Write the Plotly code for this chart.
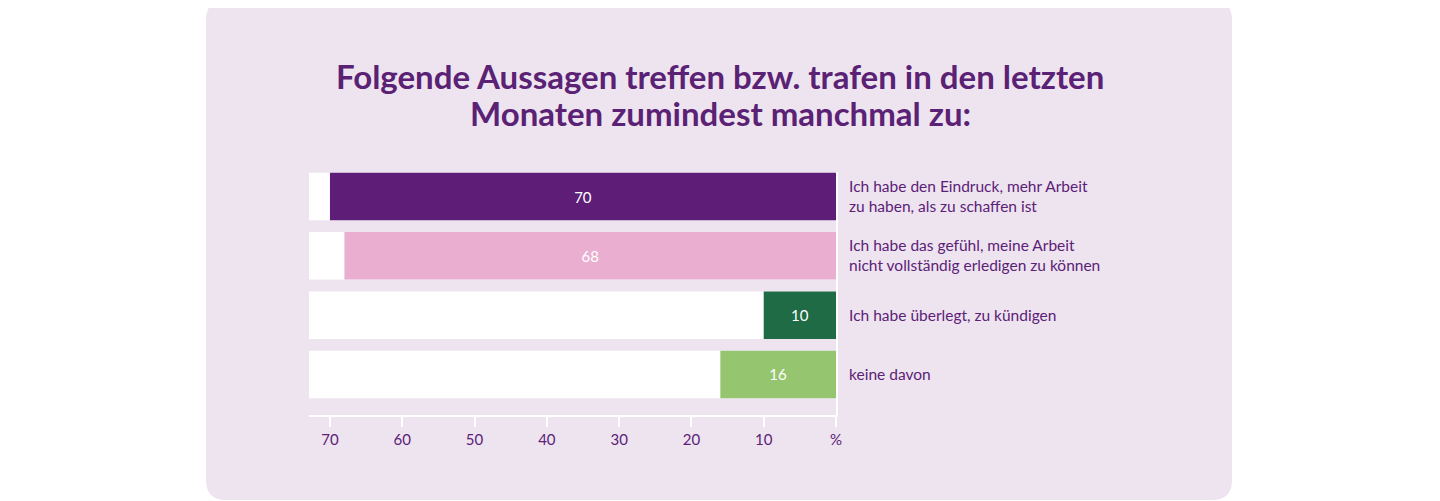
import plotly.graph_objects as go

# Datos del gráfico
titel_zeilen = [
    "Folgende Aussagen treffen bzw. trafen in den letzten",
    "Monaten zumindest manchmal zu:",
]
aussagen = [
    "Ich habe den Eindruck, mehr Arbeit<br>zu haben, als zu schaffen ist",
    "Ich habe das gefühl, meine Arbeit<br>nicht vollständig erledigen zu können",
    "Ich habe überlegt, zu kündigen",
    "keine davon",
]
werte = [70, 68, 10, 16]
farben = ["#5e1e78", "#eaaed0", "#1f6b45", "#95c56e"]
tick_werte = [70, 60, 50, 40, 30, 20, 10, 0]
tick_texte = ["70", "60", "50", "40", "30", "20", "10", "%"]

lila = "#5c2177"
hintergrund = "#ede4f0"
x_max = 72.9

pos = list(range(len(aussagen)))

fig = go.Figure()

# Weiße Hintergrundbalken (Spuren)
fig.add_trace(go.Bar(
    x=[x_max] * len(pos), y=pos, orientation="h",
    marker_color="white", marker_line_width=0,
    hoverinfo="skip", showlegend=False,
))

# Eigentliche Werte
fig.add_trace(go.Bar(
    x=werte, y=pos, orientation="h",
    marker_color=farben, marker_line_width=0,
    text=[str(w) for w in werte], textposition="inside",
    insidetextanchor="middle",
    textfont=dict(color="white", size=15, family="Lato"),
    showlegend=False,
))

# Seite hat 8px Rand, daher alles um 8px verschieben
off = 8
pl, pr, pt, pb = 309 - off, 836 - off, 172 - off, 415 - off
def px(x):
    return (x - off - pl) / (pr - pl)
def py(y):
    return (pb - (y - off)) / (pb - pt)

# Panel mit runden Ecken
x0, x1, y0, y1, r = 206, 1232, 0, 500, 20
path = (
    f"M {px(x0 + r)} {py(y0)} L {px(x1 - r)} {py(y0)} "
    f"Q {px(x1)} {py(y0)} {px(x1)} {py(y0 + r)} "
    f"L {px(x1)} {py(y1 - r)} Q {px(x1)} {py(y1)} {px(x1 - r)} {py(y1)} "
    f"L {px(x0 + r)} {py(y1)} Q {px(x0)} {py(y1)} {px(x0)} {py(y1 - r)} "
    f"L {px(x0)} {py(y0 + r)} Q {px(x0)} {py(y0)} {px(x0 + r)} {py(y0)} Z"
)
fig.add_shape(type="path", path=path, xref="paper", yref="paper",
              fillcolor=hintergrund, line_width=0, layer="below")

# Titel als zwei Zeilen (engerer Zeilenabstand als bei <br>)
for zeile, ypix in zip(titel_zeilen, [76, 113]):
    fig.add_annotation(
        text=zeile, xref="paper", yref="paper",
        x=px(720), y=py(ypix), xanchor="center", yanchor="middle",
        showarrow=False,
        font=dict(family="Lato", size=33, color="#5a2174", weight="bold"),
    )

fig.update_layout(
    width=1440, height=501,
    margin=dict(l=pl, r=1440 - pr, t=pt, b=501 - pb),
    paper_bgcolor="white", plot_bgcolor="rgba(0,0,0,0)",
    barmode="overlay", bargap=0.2,
    font=dict(family="Lato", color=lila, size=15),
    xaxis=dict(
        range=[x_max, 0], tickvals=tick_werte, ticktext=tick_texte,
        showgrid=False, zeroline=False,
        showline=True, linecolor="white", linewidth=2,
        ticks="outside", ticklen=10, tickcolor="white", tickwidth=2,
        tickfont=dict(size=15, color=lila),
    ),
    yaxis=dict(
        range=[3.683, -0.413], side="right",
        tickvals=pos, ticktext=aussagen,
        showgrid=False, zeroline=False,
        showline=True, linecolor="white", linewidth=2,
        ticks="", ticklabelstandoff=8,
        tickfont=dict(size=15.5, color=lila),
    ),
)

fig.write_html("out.html")
